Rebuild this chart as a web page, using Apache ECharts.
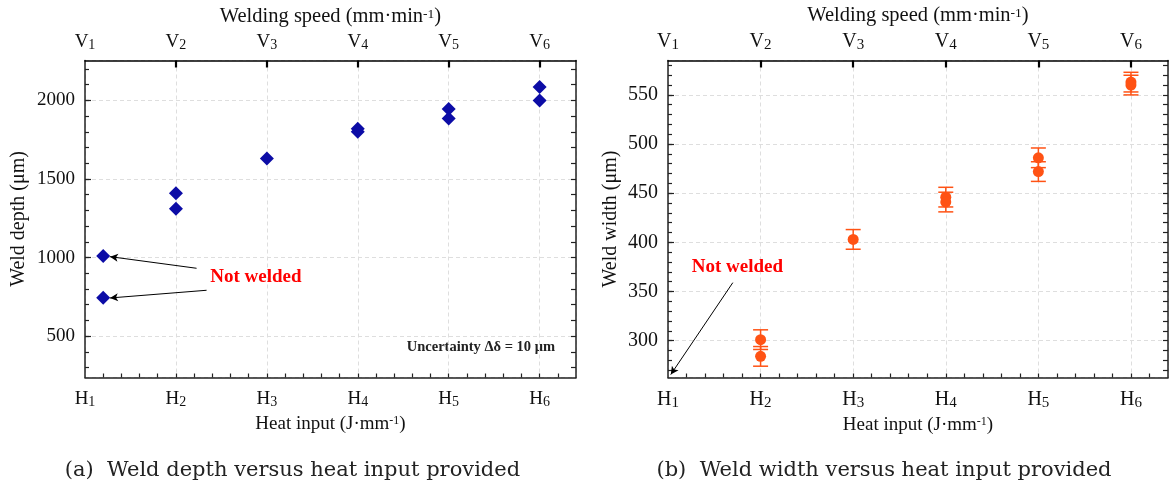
<!DOCTYPE html>
<html>
<head>
<meta charset="utf-8">
<script src="https://cdn.jsdelivr.net/npm/echarts@6/dist/echarts.min.js"></script>
<style>
  html, body { margin: 0; padding: 0; background: #fff; }
  #chart { width: 1170px; height: 488px; }
</style>
</head>
<body>
<div id="chart"></div>
<script>
// Categories on the shared x scale (H = heat input level, V = welding speed level)
const heatLabels = ['H1', 'H2', 'H3', 'H4', 'H5', 'H6'];
const speedLabels = ['V1', 'V2', 'V3', 'V4', 'V5', 'V6'];
const levelPos = [1, 2, 3, 4, 5, 6];

// (a) weld depth, µm (the H1 samples sit just right of the axis)
const depthX = [1.2, 1.2, 2, 2, 3, 4, 4, 5, 5, 6, 6];
const depthY = [1010, 745, 1410, 1310, 1630, 1820, 1800, 1945, 1885, 2085, 2000];

// (b) weld width, µm, with measurement uncertainty
const widthX = [2, 2, 3, 4, 4, 5, 5, 6, 6];
const widthY = [301, 284, 403, 446, 441, 486, 472, 563, 560];
const widthErr = [10, 10, 10, 10, 10, 10, 10, 10, 10];

// Axis ranges
const xRange = [1, 6.4];
const depthRange = [237, 2254];
const widthRange = [262.5, 585];

// Minor tick positions
function steps(from, to, step) {
  const out = [];
  for (let v = from; v <= to + 1e-9; v += step) out.push(Math.round(v * 100) / 100);
  return out;
}
const xMinor = steps(1.2, 6.2, 0.2);
const depthMinor = steps(300, 2200, 100);
const widthMinor = steps(270, 580, 10);

const SERIF = "'Liberation Serif', 'Times New Roman', serif";
const BLUE = '#0c0ca6';
const ORANGE = '#ff5214';
const FRAME = '#222';

// Letter with a lowered index digit (letter hangs from the top, index sits on the bottom)
function subRich(size) {
  return {
    b: { fontFamily: SERIF, fontSize: size, color: '#111', lineHeight: size, verticalAlign: 'top' },
    s: { fontFamily: SERIF, fontSize: size - 5, color: '#111', lineHeight: size + 1, verticalAlign: 'bottom' }
  };
}
// Unit text with a raised exponent
function nameRich(size) {
  return {
    n: { fontFamily: SERIF, fontSize: size, color: '#111', lineHeight: size, verticalAlign: 'bottom' },
    p: { fontFamily: SERIF, fontSize: size - 7, color: '#111', lineHeight: size - 7, verticalAlign: 'top' }
  };
}
function levelFormatter(labels) {
  return function (v) {
    const t = labels[Math.round(v) - 1] || '';
    return '{b|' + t.charAt(0) + '}{s|' + t.slice(1) + '}';
  };
}

function buildAxes(g, yRange, yMinor, yName, yGap, labelSize) {
  const xs = [
    { // bottom: labels + vertical grid
      type: 'value', gridIndex: g, position: 'bottom', min: xRange[0], max: xRange[1], interval: 1,
      axisLine: { show: true, onZero: false, lineStyle: { color: FRAME, width: 1.5 } },
      axisTick: { show: false },
      axisLabel: { customValues: levelPos, margin: 12, formatter: levelFormatter(heatLabels), rich: subRich(labelSize) },
      splitLine: { show: true, lineStyle: { color: '#dedede', type: [4, 3], width: 1 } },
      name: '{n|Heat input (J·mm}{p|-1}{n|)}', nameLocation: 'middle', nameGap: 34,
      nameTextStyle: { rich: nameRich(19) }
    },
    { // bottom minor ticks
      type: 'value', gridIndex: g, position: 'bottom', min: xRange[0], max: xRange[1],
      axisLine: { show: false }, axisLabel: { show: false }, splitLine: { show: false },
      axisTick: { show: true, inside: true, length: 4, customValues: xMinor, lineStyle: { color: FRAME, width: 1.2 } }
    },
    { // top: welding speed
      type: 'value', gridIndex: g, position: 'top', min: xRange[0], max: xRange[1],
      axisLine: { show: true, onZero: false, lineStyle: { color: '#000', width: 1.5 } },
      axisTick: { show: true, inside: true, length: 7, customValues: [2, 3, 4, 5, 6], lineStyle: { color: '#000', width: 2.2 } },
      axisLabel: { customValues: levelPos, margin: 8, formatter: levelFormatter(speedLabels), rich: subRich(labelSize) },
      splitLine: { show: false },
      name: '{n|Welding speed (mm·min}{p|-1}{n|)}', nameLocation: 'middle', nameGap: 29,
      nameTextStyle: { rich: nameRich(20.5) }
    }
  ];
  const ys = [
    { // left: labels + horizontal grid
      type: 'value', gridIndex: g, position: 'left', min: yRange[0], max: yRange[1],
      splitNumber: g === 0 ? 4 : 5,
      axisLine: { show: true, onZero: false, lineStyle: { color: FRAME, width: 1.5 } },
      axisTick: { show: true, inside: true, length: 6, lineStyle: { color: FRAME, width: 1.2 } },
      axisLabel: {
        showMinLabel: false, showMaxLabel: false, margin: 10,
        fontFamily: SERIF, fontSize: labelSize, color: '#111',
        formatter: function (v) { return String(v); }
      },
      splitLine: { show: true, lineStyle: { color: '#dedede', type: [4, 3], width: 1 } },
      name: yName, nameLocation: 'middle', nameGap: yGap,
      nameTextStyle: { fontFamily: SERIF, fontSize: 20, color: '#111' }
    },
    { // left minor ticks
      type: 'value', gridIndex: g, position: 'left', min: yRange[0], max: yRange[1],
      axisLine: { show: false }, axisLabel: { show: false }, splitLine: { show: false },
      axisTick: { show: true, inside: true, length: 4, customValues: yMinor, lineStyle: { color: FRAME, width: 1.2 } }
    },
    { // right frame with ticks
      type: 'value', gridIndex: g, position: 'right', min: yRange[0], max: yRange[1],
      axisLine: { show: true, onZero: false, lineStyle: { color: FRAME, width: 1.5 } },
      axisLabel: { show: false }, splitLine: { show: false },
      axisTick: { show: true, inside: true, length: 5, customValues: yMinor, lineStyle: { color: FRAME, width: 1.2 } }
    }
  ];
  return { xs, ys };
}

const a = buildAxes(0, depthRange, depthMinor, 'Weld depth (μm)', 56, 19);
const b = buildAxes(1, widthRange, widthMinor, 'Weld width (μm)', 47, 20);

const arrowLine = {
  silent: true, animation: false,
  symbol: ['none', 'arrow'], symbolSize: [6, 8],
  label: { show: false },
  lineStyle: { color: '#000', width: 1, type: 'solid' },
  emphasis: { disabled: true }
};
const redNote = {
  show: true, position: 'inside', formatter: 'Not welded',
  fontFamily: SERIF, fontSize: 19, fontWeight: 'bold', color: '#ff0000'
};

const chart = echarts.init(document.getElementById('chart'), null, { renderer: 'canvas' });
chart.setOption({
  animation: false,
  backgroundColor: '#fff',
  grid: [
    { left: 85, right: 594, top: 60.5, bottom: 110.5 },
    { left: 668, right: 2, top: 60.5, bottom: 110.5 }
  ],
  xAxis: a.xs.concat(b.xs),
  yAxis: a.ys.concat(b.ys),
  series: [
    {
      type: 'scatter', xAxisIndex: 0, yAxisIndex: 0,
      symbol: 'diamond', symbolSize: 14,
      itemStyle: { color: BLUE, opacity: 1 },
      data: depthX.map((x, i) => [x, depthY[i]]),
      markLine: Object.assign({}, arrowLine, {
        data: [
          [{ coord: [2.227, 932] }, { coord: [1.275, 1006] }],
          [{ coord: [2.337, 792] }, { coord: [1.275, 743] }]
        ]
      }),
      markPoint: {
        silent: true, symbol: 'circle', symbolSize: 1,
        itemStyle: { color: 'rgba(0,0,0,0)' },
        label: redNote,
        data: [{ coord: [2.88, 877] }]
      }
    },
    {
      type: 'custom', xAxisIndex: 3, yAxisIndex: 3, z: 1,
      data: widthX.map((x, i) => [x, widthY[i], widthErr[i]]),
      renderItem: function (params, api) {
        const x = api.value(0), y = api.value(1), e = api.value(2);
        const top = api.coord([x, y + e]);
        const bot = api.coord([x, y - e]);
        const h = 7.5;
        const st = { stroke: ORANGE, lineWidth: 1.5 };
        return {
          type: 'group',
          children: [
            { type: 'line', shape: { x1: top[0], y1: top[1], x2: bot[0], y2: bot[1] }, style: st },
            { type: 'line', shape: { x1: top[0] - h, y1: top[1], x2: top[0] + h, y2: top[1] }, style: st },
            { type: 'line', shape: { x1: bot[0] - h, y1: bot[1], x2: bot[0] + h, y2: bot[1] }, style: st }
          ]
        };
      }
    },
    {
      type: 'scatter', xAxisIndex: 3, yAxisIndex: 3, z: 3,
      symbol: 'circle', symbolSize: 11,
      itemStyle: { color: ORANGE, opacity: 1 },
      data: widthX.map((x, i) => [x, widthY[i]]),
      markLine: Object.assign({}, arrowLine, {
        data: [[{ coord: [1.70, 359] }, { coord: [1.03, 265.5] }]]
      }),
      markPoint: {
        silent: true, symbol: 'circle', symbolSize: 1,
        itemStyle: { color: 'rgba(0,0,0,0)' },
        label: redNote,
        data: [{ coord: [1.75, 375] }]
      }
    }
  ],
  graphic: [
    {
      type: 'text', x: 555, y: 347, silent: true,
      style: {
        text: 'Uncertainty Δδ = 10 μm', align: 'right', verticalAlign: 'middle',
        font: 'bold 14.5px ' + SERIF, fill: '#222'
      }
    },
    {
      type: 'text', x: 292.5, y: 471, silent: true,
      style: {
        text: '(a)  Weld depth versus heat input provided', align: 'center', verticalAlign: 'middle',
        font: "21px 'DejaVu Serif', serif", fill: '#222'
      }
    },
    {
      type: 'text', x: 884, y: 471, silent: true,
      style: {
        text: '(b)  Weld width versus heat input provided', align: 'center', verticalAlign: 'middle',
        font: "21px 'DejaVu Serif', serif", fill: '#222'
      }
    }
  ]
});
</script>
</body>
</html>
